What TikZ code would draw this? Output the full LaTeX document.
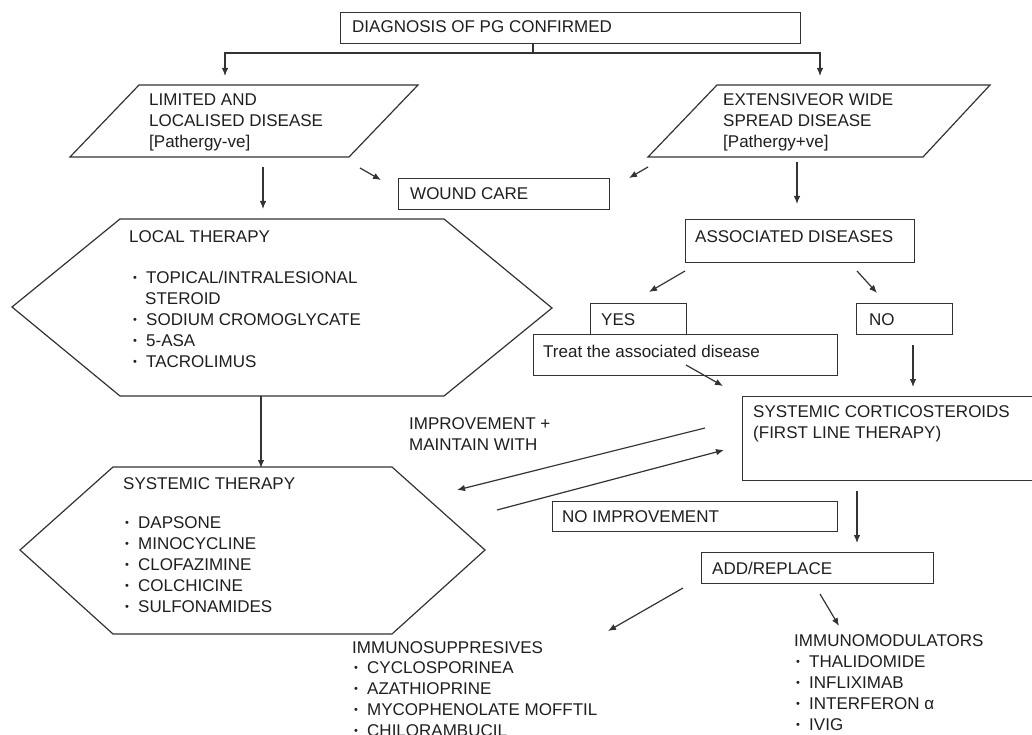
\documentclass[tikz,border=0pt]{standalone}
\usepackage{fontspec}
\setmainfont{Liberation Sans}
\usetikzlibrary{arrows.meta}
\newcommand{\blt}{\makebox[13pt][l]{\fontsize{11}{11}\selectfont\raisebox{2pt}{•}}}
\begin{document}
\begin{tikzpicture}[x=1pt,y=-1pt,
  ln/.style={draw=black!80, line width=1.2pt},
  arr/.style={ln, -{Latex[length=8pt,width=6.5pt]}},
  box/.style={ln, fill=white, rectangle, anchor=north west, inner sep=0pt},
  shp/.style={ln, line join=miter},
  txt/.style={inner sep=0pt, anchor=base west, align=left, text=black!88,
    font=\fontsize{17}{21}\selectfont}]
\useasboundingbox[fill=white] (0,0) rectangle (1032,735);

% top box and split
\node[box, minimum width=460pt, minimum height=31pt] (diag) at (340,12) {};
\node[txt] (diagt) at (352,33) {DIAGNOSIS OF PG CONFIRMED};
\coordinate (split) at (533,53);
\coordinate (limtop) at (225,76);
\coordinate (exttop) at (820,76);
\draw[ln] (split |- diag.south) -- (split);
\draw[arr] (split) -| (limtop);
\draw[arr] (split) -| (exttop);

% parallelograms (multi-line text: base = last line)
\draw[shp] (139,85) -- (418,85) -- (349,157) -- (70,157) -- cycle;
\node[txt] (limt) at (149,148) {LIMITED AND\\LOCALISED DISEASE\\{[Pathergy-ve]}};
\draw[shp] (717,85) -- (990,85) -- (923,157) -- (648,157) -- cycle;
\node[txt] (extt) at (723,148) {EXTENSIVEOR WIDE\\SPREAD DISEASE\\{[Pathergy+ve]}};

% wound care
\node[box, minimum width=211pt, minimum height=31pt] (wound) at (398,178) {};
\node[txt] (woundt) at (410,200) {WOUND CARE};
\coordinate (a1s) at (360,168); \coordinate (a1e) at (381,180);
\coordinate (a2s) at (648,167); \coordinate (a2e) at (629,178);
\draw[arr] (a1s) -- (a1e);
\draw[arr] (a2s) -- (a2e);
\coordinate (a3s) at (263,167); \coordinate (a3e) at (263,209);
\draw[arr] (a3s) -- (a3e);
\coordinate (a4s) at (797,162); \coordinate (a4e) at (797,204);
\draw[arr] (a4s) -- (a4e);

% local therapy hexagon
\draw[shp] (12,307) -- (120,219) -- (444,219) -- (552,308) -- (444,396) -- (120,396) -- cycle;
\node[txt] (localt) at (129,242) {LOCAL THERAPY};
\node[txt] (localist) at (133,367) {\blt TOPICAL/INTRALESIONAL\\\hspace*{12pt}STEROID\\\blt SODIUM CROMOGLYCATE\\\blt 5-ASA\\\blt TACROLIMUS};

% associated diseases
\node[box, minimum width=229pt, minimum height=43pt] (assoc) at (685,219) {};
\node[txt] (assoct) at (695,242) {ASSOCIATED DISEASES};
\coordinate (a5s) at (685,271); \coordinate (a5e) at (649,292);
\coordinate (a6s) at (857,271); \coordinate (a6e) at (877,293);
\draw[arr] (a5s) -- (a5e);
\draw[arr] (a6s) -- (a6e);
\node[box, minimum width=96pt, minimum height=31pt] (yes) at (590,303) {};
\node[txt] (yest) at (601,325) {YES};
\node[box, minimum width=96pt, minimum height=31pt] (no) at (856,303) {};
\node[txt] (not) at (869,325) {NO};
\node[box, minimum width=304pt, minimum height=41pt] (treat) at (533,334) {};
\node[txt] (treatt) at (543,357) {Treat the associated disease};
\coordinate (a7s) at (686,365); \coordinate (a7e) at (723,386);
\draw[arr] (a7s) -- (a7e);
\coordinate (a8s) at (913,345); \coordinate (a8e) at (913,387);
\draw[arr] (a8s) -- (a8e);

% corticosteroids
\node[box, minimum width=300pt, minimum height=84pt] (cort) at (742,396) {};
\node[txt] (cortt) at (753,438) {SYSTEMIC CORTICOSTEROIDS\\(FIRST LINE THERAPY)};
\node[txt] (impt) at (409,450) {IMPROVEMENT +\\MAINTAIN WITH};
\coordinate (a9s) at (705,428); \coordinate (a9e) at (457,490);
\draw[arr] (a9s) -- (a9e);
\coordinate (a10s) at (497,510); \coordinate (a10e) at (724,450);
\draw[arr] (a10s) -- (a10e);

% systemic therapy hexagon
\coordinate (a11s) at (261,396); \coordinate (a11e) at (261,468);
\draw[arr] (a11s) -- (a11e);
\draw[shp] (20,550) -- (113,467) -- (392,467) -- (485,550) -- (392,634) -- (113,634) -- cycle;
\node[txt] (systt) at (123,489) {SYSTEMIC THERAPY};
\node[txt] (systlist) at (125,612) {\blt DAPSONE\\\blt MINOCYCLINE\\\blt CLOFAZIMINE\\\blt COLCHICINE\\\blt SULFONAMIDES};

% no improvement, add/replace
\node[box, minimum width=285pt, minimum height=30pt] (noimp) at (552,501) {};
\node[txt] (noimpt) at (562,522) {NO IMPROVEMENT};
\coordinate (a12s) at (857,491); \coordinate (a12e) at (857,543);
\draw[arr] (a12s) -- (a12e);
\node[box, minimum width=232pt, minimum height=31pt] (addrep) at (701,552) {};
\node[txt] (addrept) at (712,574) {ADD/REPLACE};
\coordinate (a13s) at (683,588); \coordinate (a13e) at (608,631);
\draw[arr] (a13s) -- (a13e);
\coordinate (a14s) at (820,594); \coordinate (a14e) at (839,626);
\draw[arr] (a14s) -- (a14e);

% bottom lists
\node[txt] (immsup) at (352,653) {IMMUNOSUPPRESIVES};
\node[txt] (immsuplist) at (354,736) {\blt CYCLOSPORINEA\\\blt AZATHIOPRINE\\\blt MYCOPHENOLATE MOFFTIL\\\blt CHILORAMBUCIL};
\node[txt] (immmod) at (794,646) {IMMUNOMODULATORS};
\node[txt] (immmodlist) at (796,730) {\blt THALIDOMIDE\\\blt INFLIXIMAB\\\blt INTERFERON α\\\blt IVIG};
\end{tikzpicture}
\end{document}
